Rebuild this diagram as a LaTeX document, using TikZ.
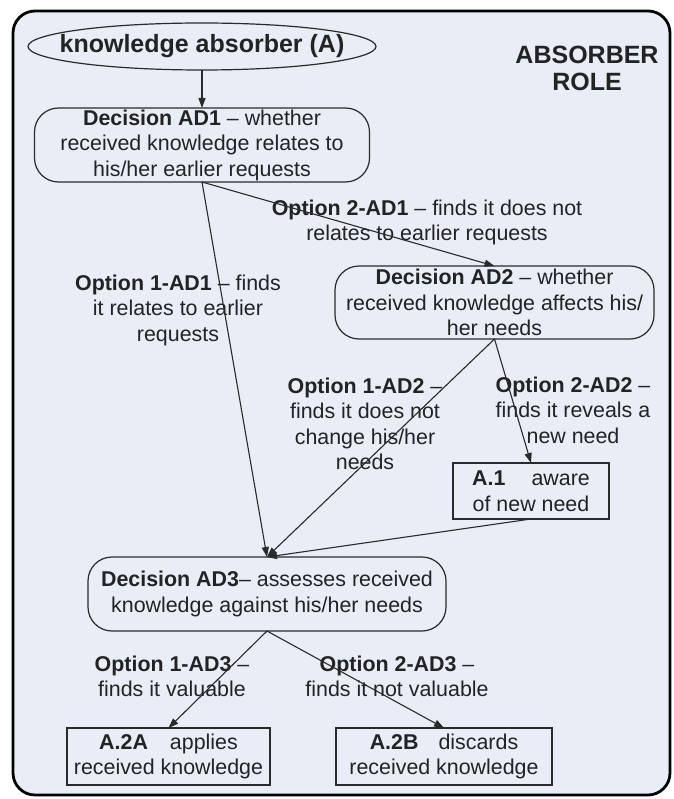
\documentclass[tikz,border=0pt]{standalone}
\usepackage{fontspec}
\setmainfont{Liberation Sans}
\usetikzlibrary{arrows.meta,shapes.geometric}
\definecolor{panel}{HTML}{E8EDF6}
\definecolor{ink}{HTML}{232323}
\definecolor{edge}{HTML}{2A2A2A}
\begin{document}
\begin{tikzpicture}[x=1pt,y=-1pt,
  every node/.style={font=\fontsize{21.4}{25.5}\selectfont, text=ink, inner sep=0pt, outer sep=0pt},
  decision/.style={draw=edge, line width=1.2pt, rounded corners=24pt, align=center},
  outcome/.style={draw=edge, line width=1.2pt, align=center},
  optlabel/.style={align=center},
  link/.style={draw=edge, line width=1.1pt, -{Triangle[length=10pt,width=7pt]}},
]
\useasboundingbox (0,0) rectangle (673,799);

% role panel
\draw[line width=2.8pt, rounded corners=22pt, fill=panel] (13,11) rectangle (670,795);
\node[font=\bfseries\fontsize{25}{27}\selectfont, align=center] (role) at (587,68.5) {ABSORBER\\ROLE};

% actor
\node[ellipse, draw=edge, line width=1.2pt, minimum width=348pt, minimum height=47pt,
      font=\bfseries\fontsize{25}{30}\selectfont] (absorber) at (202,46.5)
      {\makebox[0pt]{knowledge absorber (A)}};

% decisions
\node[decision, minimum width=335pt, minimum height=74pt] (ad1) at (202,145)
  {\textbf{Decision AD1} – whether\\received knowledge relates to\\his/her earlier requests};
\node[decision, minimum width=319pt, minimum height=73pt] (ad2) at (494.5,302.5)
  {\textbf{Decision AD2} – whether\\received knowledge affects his/\\her needs};
\node[decision, minimum width=358pt, minimum height=74pt] (ad3) at (267,594)
  {\textbf{Decision AD3}– assesses received\\knowledge against his/her needs};

% outcomes
\node[outcome, minimum width=156pt, minimum height=56pt] (a1) at (531,491)
  {\textbf{A.1}\hspace{26pt}aware\\of new need};
\node[outcome, minimum width=203pt, minimum height=57pt] (a2a) at (168.5,756.5)
  {\textbf{A.2A}\hspace{22pt}applies\\received knowledge};
\node[outcome, minimum width=216pt, minimum height=57pt] (a2b) at (444,756.5)
  {\textbf{A.2B}\hspace{20pt}discards\\received knowledge};

% option labels
\node[optlabel] (o2ad1) at (427,222.5) {\textbf{Option 2-AD1} – finds it does not\\relates to earlier requests};
\node[optlabel] (o1ad1) at (178,310) {\textbf{Option 1-AD1} – finds\\it relates to earlier\\requests};
\node[optlabel] (o1ad2) at (365,424) {\textbf{Option 1-AD2} –\\finds it does not\\change his/her\\needs};
\node[optlabel] (o2ad2) at (573,410) {\textbf{Option 2-AD2} –\\finds it reveals a\\new need};
\node[optlabel] (o1ad3) at (172,676.5) {\textbf{Option 1-AD3} –\\finds it valuable};
\node[optlabel] (o2ad3) at (397,676.5) {\textbf{Option 2-AD3} –\\finds it not valuable};

% connectors
\draw[link] (absorber.south) -- (ad1.north);
\draw[link] (ad1.south) -- (ad2.north);
\draw[link] (ad1.south) -- (ad3.north);
\draw[link] (ad2.south) -- (a1.north);
\draw[link] (ad2.south) -- (ad3.north);
\draw[link] (a1.south) -- (ad3.north);
\draw[link] (ad3.south) -- (a2a.north);
\draw[link] (ad3.south) -- (a2b.north);
\end{tikzpicture}
\end{document}
